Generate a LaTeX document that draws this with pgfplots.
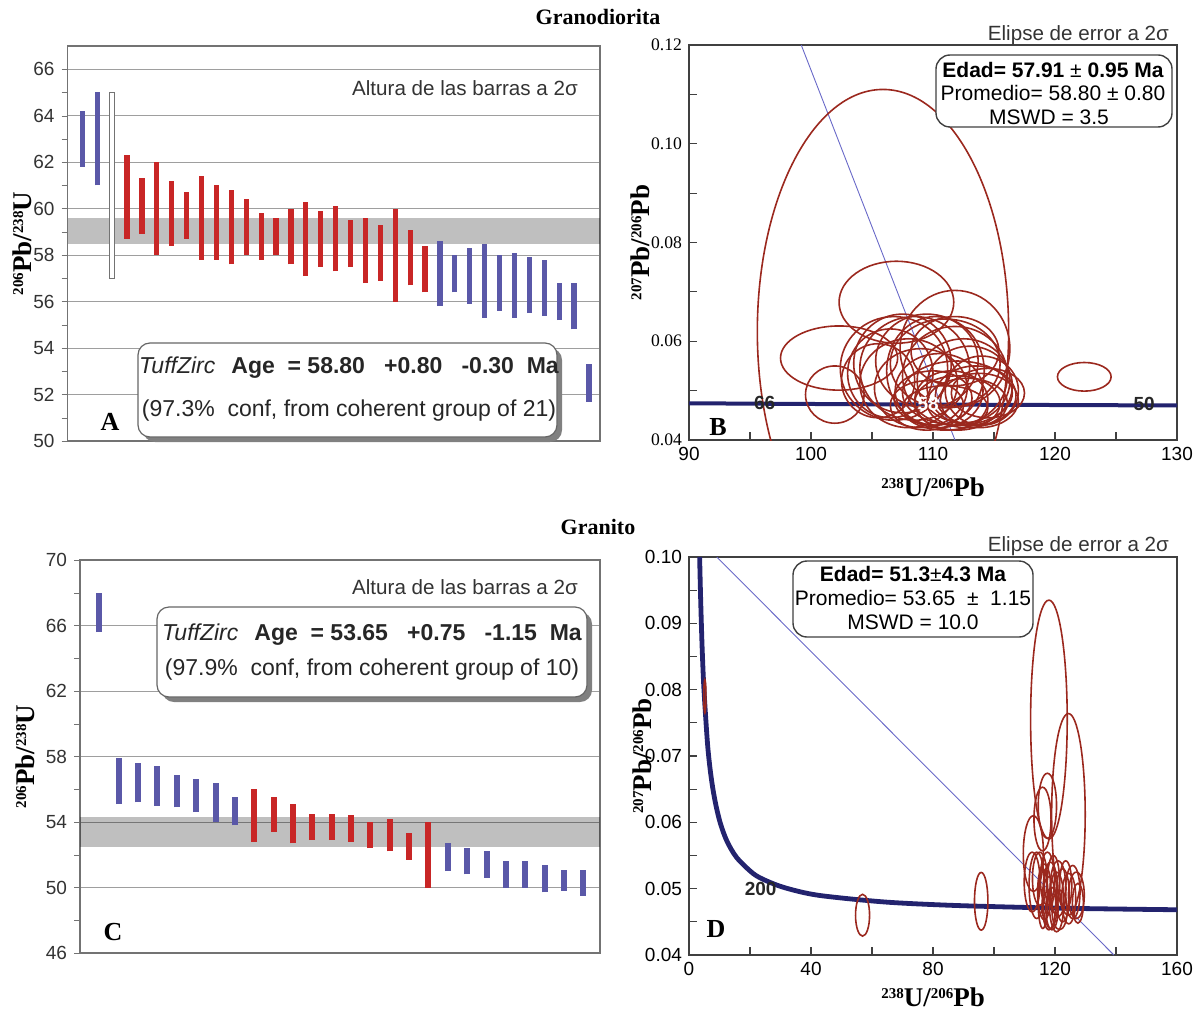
\documentclass[border=0pt]{standalone}
\usepackage{pgfplots}
\pgfplotsset{compat=1.18}
\usepackage{pgfplotstable}
\usepackage{fontspec}
\setmainfont{Liberation Sans}
\newfontfamily\tms{Liberation Serif}

\definecolor{barblue}{RGB}{90,88,168}
\definecolor{barred}{RGB}{200,38,38}
\definecolor{ellcol}{RGB}{155,40,30}
\definecolor{concol}{RGB}{35,35,110}
\definecolor{regcol}{RGB}{105,105,200}

\newcommand\tickfont{\fontsize{9.5}{11}\selectfont}
\newcommand\tmsticks{\tms\fontsize{8.8}{10}\selectfont}
\newcommand\altfont{\fontsize{10.3}{12}\selectfont}
\newcommand\boxfont{\fontsize{11.5}{13}\selectfont}
\newcommand\eboxfont{\fontsize{10.5}{12}\selectfont}
\newcommand\titlefont{\tms\bfseries\fontsize{11}{13}\selectfont}
\newcommand\letfont{\tms\bfseries\fontsize{13}{15}\selectfont}
\newcommand\labfont{\tms\bfseries\fontsize{13.5}{15}\selectfont}
\newcommand\sups[1]{\raisebox{0.65ex}{\fontsize{7.5}{8}\selectfont #1}}

\pgfplotsset{/pgf/number format/assume math mode=true}

% Panel A bars: x, low, high
\pgfplotstableread{
x lo hi
1 61.8 64.2
2 61.0 65.0
25 55.8 58.6
26 56.4 58.0
27 55.9 58.3
28 55.3 58.5
29 55.6 58.0
30 55.3 58.1
31 55.5 57.9
32 55.4 57.8
33 55.2 56.8
34 54.8 56.8
35 51.7 53.3
}\Ablue
\pgfplotstableread{
x lo hi
4 58.7 62.3
5 58.9 61.3
6 58.0 62.0
7 58.4 61.2
8 58.7 60.7
9 57.8 61.4
10 57.8 61.0
11 57.6 60.8
12 58.0 60.4
13 57.8 59.8
14 58.0 59.6
15 57.6 60.0
16 57.1 60.3
17 57.5 59.9
18 57.3 60.1
19 57.5 59.5
20 56.8 59.6
21 56.9 59.3
22 56.0 60.0
23 56.7 59.1
24 56.4 58.4
}\Ared
% Panel C bars
\pgfplotstableread{
x lo hi
1 65.6 68.0
2 55.1 57.9
3 55.2 57.6
4 55.0 57.4
5 54.9 56.9
6 54.6 56.6
7 54.0 56.4
8 53.8 55.5
19 51.0 52.7
20 50.8 52.4
21 50.6 52.2
22 50.0 51.6
23 50.0 51.6
24 49.7 51.4
25 49.8 51.1
26 49.5 51.1
}\Cblue
\pgfplotstableread{
x lo hi
9 52.8 56.0
10 53.4 55.5
11 52.7 55.1
12 52.9 54.5
13 52.9 54.5
14 52.8 54.4
15 52.4 54.0
16 52.2 54.2
17 51.7 53.3
18 50.0 54.0
}\Cred

\begin{document}
\begin{tikzpicture}
\path[use as bounding box] (0pt,0pt) rectangle (598.5pt,504.5pt);

% ---------------- Panel A ----------------
\begin{axis}[at={(33.75pt,284pt)}, anchor=south west, scale only axis,
  width=266.25pt, height=197.5pt,
  xmin=0, xmax=35.74, ymin=50, ymax=67,
  xtick=\empty, ytick={50,52,...,66}, minor ytick={51,53,...,65},
  ymajorgrids, major grid style={draw=black!38, line width=0.5pt},
  tick align=outside, ytick pos=left, major tick length=3pt, minor tick length=3pt,
  tick style={draw=black!55},
  axis line style={draw=black!55, line width=0.7pt},
  yticklabel style={font=\tickfont, text=black!80},
  ylabel={\sups{206}Pb/\sups{238}U},
  ylabel style={at={(axis description cs:-0.0855,0.5)}, anchor=center, font=\labfont},
]
\addplot[draw=none, fill=black, fill opacity=0.25] coordinates {(0,58.5) (35.74,58.5) (35.74,59.6) (0,59.6)} -- cycle;
\addplot[draw=none, mark=none, error bars/.cd, y dir=plus, y explicit, error mark=none,
  error bar style={draw=barblue, line width=2.6pt}]
  table[x=x, y=lo, y error expr=\thisrow{hi}-\thisrow{lo}] {\Ablue};
\addplot[draw=none, mark=none, error bars/.cd, y dir=plus, y explicit, error mark=none,
  error bar style={draw=barred, line width=2.6pt}]
  table[x=x, y=lo, y error expr=\thisrow{hi}-\thisrow{lo}] {\Ared};
\addplot[draw=black!55, fill=white, line width=0.6pt] coordinates {(2.83,57) (3.17,57) (3.17,65) (2.83,65)} -- cycle;
\end{axis}

% ---------------- Panel B ----------------
\begin{axis}[at={(344.5pt,284.5pt)}, anchor=south west, scale only axis,
  width=244pt, height=197.5pt,
  xmin=90, xmax=130, ymin=0.04, ymax=0.12,
  xtick={90,100,110,120,130}, minor xtick={95,105,115,125},
  ytick={0.04,0.06,0.08,0.10,0.12}, minor ytick={0.05,0.07,0.09,0.11},
  scaled y ticks=false,
  tick align=inside, tick pos=left, major tick length=4pt, minor tick length=4pt,
  tick style={draw=black!75, line width=0.6pt},
  axis line style={draw=black!75, line width=0.8pt},
  xticklabel style={font=\tickfont},
  yticklabel style={font=\tmsticks, /pgf/number format/.cd, fixed, fixed zerofill, precision=2},
  ylabel={\sups{207}Pb/\sups{206}Pb},
  ylabel style={at={(axis description cs:-0.1,0.5)}, anchor=center, font=\labfont},
  xlabel={\sups{238}U/\sups{206}Pb},
  xlabel style={at={(axis description cs:0.5,-0.119)}, anchor=center, font=\labfont},
]
\addplot[regcol, line width=0.45pt] coordinates {(99.2,0.12) (111.8,0.04)};
\addplot[concol, line width=2pt] coordinates {(90,0.04744) (97.17,0.04733) (110.65,0.04717) (128.43,0.04701) (130,0.04700)};
\foreach \cx/\cy/\rx/\ry in {
 105.9/0.0620/10.3/0.0490, 107.0/0.0679/4.7/0.0083, 102.3/0.0566/4.8/0.0065,
 101.95/0.0492/2.4/0.0058, 122.4/0.0528/2.2/0.0029, 111.8/0.0585/4.5/0.0118,
 106.8/0.0545/4.4/0.0105, 107.5/0.0555/4.0/0.0100, 108.5/0.0545/4.5/0.0105,
 109.5/0.0560/4.2/0.0095, 110.2/0.0540/4.0/0.0110, 111.0/0.0555/4.5/0.0090,
 111.8/0.0530/4.3/0.0100, 112.5/0.0520/3.8/0.0085, 113.0/0.0510/3.5/0.0080,
 110.5/0.0500/3.6/0.0075, 109.0/0.0505/3.8/0.0080, 108.0/0.0515/4.0/0.0090,
 112.0/0.0495/4.5/0.0065, 113.5/0.0490/3.3/0.0060, 111.5/0.0480/3.0/0.0060,
 110.0/0.0485/3.2/0.0055, 112.8/0.0475/3.3/0.0050, 109.5/0.0470/3.0/0.0050,
 111.0/0.0465/3.5/0.0045, 113.8/0.0480/3.2/0.0055, 114.0/0.0500/3.0/0.0070,
 114.5/0.0495/3.0/0.0050, 106.5/0.0535/3.5/0.0090, 105.5/0.0520/3.0/0.0075,
 111.8/0.0580/3.6/0.0070, 112.0/0.0475/3.5/0.0055}{
  \edef\temp{\noexpand\draw[ellcol, line width=0.8pt] (axis cs:\cx,\cy) ellipse [x radius=\rx, y radius=\ry];}
  \temp
}
\node[font=\bfseries\fontsize{9.5}{10}\selectfont, text=black!85] at (axis cs:96.2,0.0476) {66};
\node[font=\bfseries\fontsize{9.5}{10}\selectfont, text=white] at (axis cs:109.6,0.0474) {58};
\node[font=\bfseries\fontsize{9.5}{10}\selectfont, text=black!85] at (axis cs:127.3,0.0474) {50};
\end{axis}

% ---------------- Panel C ----------------
\begin{axis}[at={(40pt,28pt)}, anchor=south west, scale only axis,
  width=260pt, height=196.5pt,
  xmin=0, xmax=26.86, ymin=46, ymax=70,
  xtick=\empty, ytick={46,50,...,70}, minor ytick={48,52,...,68},
  ymajorgrids, major grid style={draw=black!38, line width=0.5pt},
  tick align=outside, ytick pos=left, major tick length=3pt, minor tick length=3pt,
  tick style={draw=black!55},
  axis line style={draw=black!55, line width=0.7pt},
  yticklabel style={font=\tickfont, text=black!80},
  ylabel={\sups{206}Pb/\sups{238}U},
  ylabel style={at={(axis description cs:-0.106,0.5)}, anchor=center, font=\labfont},
]
\addplot[draw=none, fill=black, fill opacity=0.25] coordinates {(0,52.45) (26.86,52.45) (26.86,54.3) (0,54.3)} -- cycle;
\addplot[draw=none, mark=none, error bars/.cd, y dir=plus, y explicit, error mark=none,
  error bar style={draw=barblue, line width=3pt}]
  table[x=x, y=lo, y error expr=\thisrow{hi}-\thisrow{lo}] {\Cblue};
\addplot[draw=none, mark=none, error bars/.cd, y dir=plus, y explicit, error mark=none,
  error bar style={draw=barred, line width=3pt}]
  table[x=x, y=lo, y error expr=\thisrow{hi}-\thisrow{lo}] {\Cred};
\end{axis}

% ---------------- Panel D ----------------
\begin{axis}[at={(344.5pt,27pt)}, anchor=south west, scale only axis,
  width=244pt, height=199pt,
  xmin=0, xmax=160, ymin=0.04, ymax=0.10,
  xtick={0,40,80,120,160}, minor xtick={20,60,100,140},
  ytick={0.04,0.05,0.06,0.07,0.08,0.09,0.10}, minor ytick={0.045,0.055,0.065,0.075,0.085,0.095},
  scaled y ticks=false,
  tick align=inside, tick pos=left, major tick length=4pt, minor tick length=4pt,
  tick style={draw=black!75, line width=0.6pt},
  axis line style={draw=black!75, line width=0.8pt},
  xticklabel style={font=\tickfont},
  yticklabel style={font=\tickfont, /pgf/number format/.cd, fixed, fixed zerofill, precision=2},
  ylabel={\sups{207}Pb/\sups{206}Pb},
  ylabel style={at={(axis description cs:-0.0963,0.5)}, anchor=center, font=\labfont},
  xlabel={\sups{238}U/\sups{206}Pb},
  xlabel style={at={(axis description cs:0.5,-0.1055)}, anchor=center, font=\labfont},
]
\addplot[regcol, line width=0.45pt] coordinates {(9.1,0.10) (139.3,0.04)};
\addplot[concol, line width=2.4pt, smooth, tension=0.5] coordinates {
 (3.43,0.1014) (3.55,0.0987) (3.82,0.0936) (4.29,0.0865) (4.89,0.0801) (5.96,0.0725)
 (6.67,0.0690) (7.57,0.0658) (8.72,0.0628) (10.25,0.0599) (12.40,0.0572) (15.62,0.0547)
 (20.99,0.0523) (25.29,0.0512) (31.73,0.0501) (42.48,0.0490) (63.97,0.0480) (85.45,0.0475)
 (110.65,0.04717) (128.43,0.04701) (149.42,0.04688) (160.66,0.04682)};
\foreach \cx/\cy/\rx/\ry in {
 5.2/0.0790/0.35/0.0025,
 56.9/0.0460/2.3/0.00315, 95.8/0.0481/2.2/0.00435,
 118.0/0.0755/6.0/0.0180, 124.4/0.0612/5.5/0.0152,
 117.5/0.0625/3.0/0.0049, 115.9/0.0605/2.8/0.0048, 112.9/0.0553/3.3/0.0057,
 112.5/0.0510/2.6/0.0045, 114.0/0.0505/2.5/0.0050, 115.0/0.0515/2.4/0.0040,
 116.5/0.0495/2.2/0.0042, 117.5/0.0515/2.3/0.0040, 118.5/0.0490/2.5/0.0050,
 119.5/0.0510/2.0/0.0040, 120.5/0.0480/2.4/0.0045, 121.0/0.0500/2.6/0.0042,
 122.5/0.0490/2.2/0.0040, 123.5/0.0505/2.0/0.0037, 124.5/0.0485/2.3/0.0038,
 125.8/0.0495/2.4/0.0040, 127.0/0.0490/2.6/0.0035, 127.5/0.0478/1.8/0.0030,
 119.0/0.0470/2.0/0.0032, 121.5/0.0468/2.5/0.0030, 118.0/0.0478/2.2/0.0040,
 116.0/0.0485/1.6/0.0045}{
  \edef\temp{\noexpand\draw[ellcol, line width=0.8pt] (axis cs:\cx,\cy) ellipse [x radius=\rx, y radius=\ry];}
  \temp
}
\node[font=\bfseries\fontsize{9.5}{10}\selectfont, text=black!85] at (axis cs:23.5,0.0499) {200};
\end{axis}

% ---------------- Texts (pixel coordinates, y up) ----------------
\begin{scope}[x=0.5pt,y=0.5pt]
\node[font=\titlefont] at (598,992) {Granodiorita};
\node[font=\titlefont] at (598,482) {Granito};
\node[font=\altfont, text=black!80] at (465,921) {Altura de las barras a 2σ};
\node[font=\altfont, text=black!80] at (465,422) {Altura de las barras a 2σ};
\node[font=\altfont, text=black!80, anchor=east] at (1176,974) {Elipse de error a 2σ};
\node[font=\altfont, text=black!80, anchor=east] at (1176,463) {Elipse de error a 2σ};
\node[font=\letfont] at (110,587) {A};
\node[font=\letfont] at (718,582) {B};
\node[font=\letfont] at (113,77) {C};
\node[font=\letfont] at (716,80) {D};

% TuffZirc box A
\fill[black!50, rounded corners=6pt] (143,567) rectangle (562,661);
\draw[black!60, fill=white, line width=0.6pt, rounded corners=6pt] (138,572) rectangle (557,666);
\node[font=\boxfont, text=black!85] at (349,641) {\textit{TuffZirc}\hspace{0.7em}\textbf{Age\ \ = 58.80\ \ \ +0.80\ \ \ -0.30\ \ Ma}};
\node[font=\boxfont, text=black!85] at (349,598) {(97.3\%\ \ conf, from coherent group of 21)};

% TuffZirc box C
\fill[black!50, rounded corners=6pt] (162,307) rectangle (592,397);
\draw[black!60, fill=white, line width=0.6pt, rounded corners=6pt] (157,312) rectangle (587,402);
\node[font=\boxfont, text=black!85] at (372,374) {\textit{TuffZirc}\hspace{0.7em}\textbf{Age\ \ = 53.65\ \ \ +0.75\ \ \ -1.15\ \ Ma}};
\node[font=\boxfont, text=black!85] at (372,339) {(97.9\%\ \ conf, from coherent group of 10)};

% Box B
\draw[black!75, fill=white, line width=0.7pt, rounded corners=7pt] (936,882) rectangle (1172,954);
\node[font=\eboxfont] at (1053,939) {\textbf{Edad= 57.91} ± \textbf{0.95 Ma}};
\node[font=\eboxfont] at (1053,916) {Promedio= 58.80 ± 0.80};
\node[font=\eboxfont] at (1049,892) {MSWD = 3.5};

% Box D
\draw[black!75, fill=white, line width=0.7pt, rounded corners=7pt] (793,372) rectangle (1033,448);
\node[font=\eboxfont] at (913,435) {\textbf{Edad= 51.3}±\textbf{4.3 Ma}};
\node[font=\eboxfont] at (913,411) {Promedio= 53.65\ \ ±\ \ 1.15};
\node[font=\eboxfont] at (913,387) {MSWD = 10.0};
\end{scope}
\end{tikzpicture}
\end{document}
